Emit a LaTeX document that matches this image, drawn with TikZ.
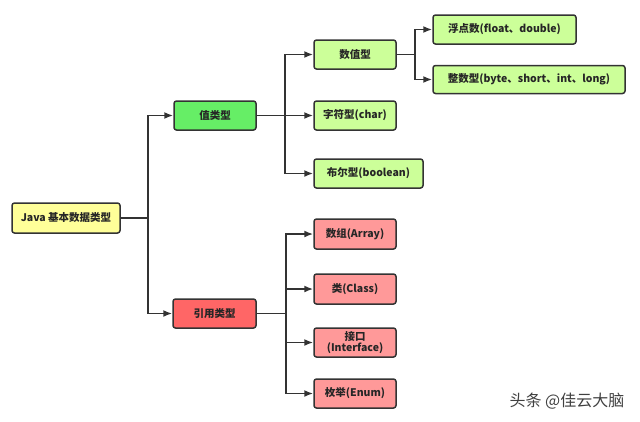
\documentclass[tikz,border=0pt]{standalone}
\usepackage{fontspec}
\setmainfont{Noto Sans CJK SC}
\usetikzlibrary{arrows.meta}
\definecolor{edgec}{HTML}{333333}
\definecolor{yel}{HTML}{FFFF99}
\definecolor{grn}{HTML}{66EE66}
\definecolor{lgrn}{HTML}{CCFF99}
\definecolor{red1}{HTML}{FF6666}
\definecolor{red2}{HTML}{FF9999}
\tikzset{
  box/.style={draw=edgec, line width=1.5pt, rounded corners=2.5pt, minimum height=29pt,
    inner sep=0pt, align=center, font=\fontsize{10.5}{12}\selectfont\bfseries, text=black!85},
  arr/.style={draw=edgec, line width=1.7pt, -{Latex[length=9pt,width=7pt]}},
}
\begin{document}
\begin{tikzpicture}[x=1pt,y=-1pt]
\useasboundingbox (0,0) rectangle (640,421);
\node[box, fill=yel, minimum width=108pt, minimum height=30pt] (java) at (66,218) {Java 基本数据类型};
\node[box, fill=grn, minimum width=82pt] (zhi) at (215,115.5) {值类型};
\node[box, fill=red1, minimum width=83pt] (ref) at (214.5,313.5) {引用类型};
\node[box, fill=lgrn, minimum width=82pt] (num) at (355,54.5) {数值型};
\node[box, fill=lgrn, minimum width=82pt] (chr) at (355,115.5) {字符型(char)};
\node[box, fill=lgrn, minimum width=109pt] (bool) at (368.5,173.5) {布尔型(boolean)};
\node[box, fill=lgrn, minimum width=143pt] (flt) at (504.5,29.5) {浮点数(float、double)};
\node[box, fill=lgrn, minimum width=192pt, minimum height=28pt] (int) at (529,79.5) {整数型(byte、short、int、long)};
\node[box, fill=red2, minimum width=82pt, minimum height=30pt] (arr) at (355,234) {数组(Array)};
\node[box, fill=red2, minimum width=82pt, minimum height=30pt] (cls) at (355,289) {类(Class)};
\node[box, fill=red2, minimum width=82pt, font=\fontsize{10.5}{11.5}\selectfont\bfseries] (ifc) at (355,342.5) {接口\\(Interface)};
\node[box, fill=red2, minimum width=82pt] (enm) at (355,393.5) {枚举(Enum)};
\node[text=black!75, font=\fontsize{16}{17}\selectfont] (wm) at (567,401) {头条 @佳云大脑};
% connectors
\draw[arr] (java.east) -- ++(27,0) coordinate (j1) |- (zhi.west);
\draw[arr] (j1) |- (ref.west);
\draw[arr] (zhi.east) -- ++(28,0) coordinate (z1) |- (num.west);
\draw[arr] (z1) -- (chr.west);
\draw[arr] (z1) |- (bool.west);
\draw[arr] (num.east) -- ++(18,0) coordinate (n1) |- (flt.west);
\draw[arr] (n1) |- (int.west);
\draw[arr] (ref.east) -- ++(29,0) coordinate (r1) |- (arr.west);
\draw[arr] (r1) |- (cls.west);
\draw[arr] (r1) |- (ifc.west);
\draw[arr] (r1) |- (enm.west);
\end{tikzpicture}
\end{document}
